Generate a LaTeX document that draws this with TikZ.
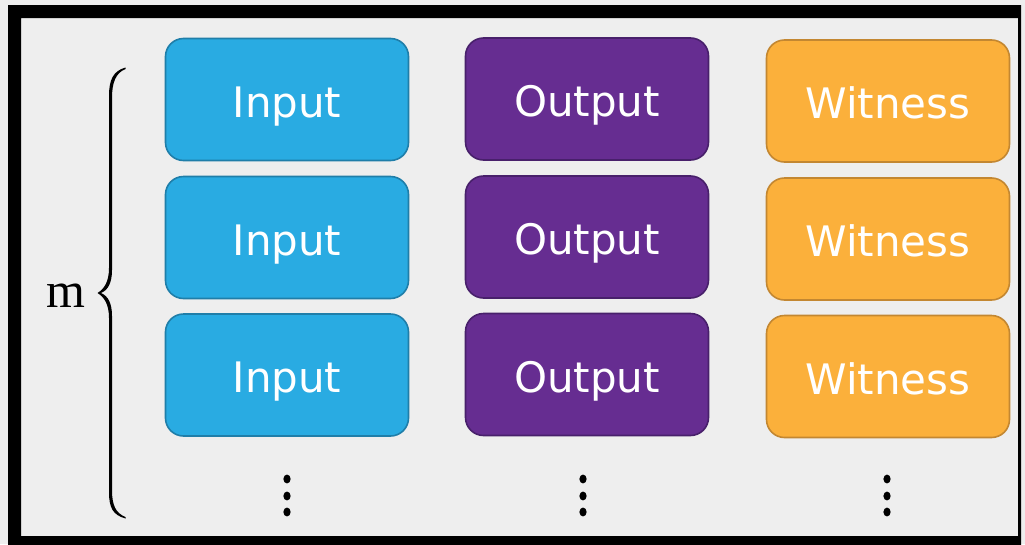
\documentclass[tikz,border=0pt]{standalone}
\usepackage{fontspec}
\setmainfont{Liberation Serif}
\newfontfamily\boxfont{DejaVu Sans}
\definecolor{bg}{HTML}{EEEEEE}
\definecolor{inFill}{HTML}{29ABE2}
\definecolor{inDraw}{HTML}{1F7EA9}
\definecolor{outFill}{HTML}{662D91}
\definecolor{outDraw}{HTML}{48206B}
\definecolor{wFill}{HTML}{FBB03B}
\definecolor{wDraw}{HTML}{C38731}
\tikzset{
  cell/.style={rounded corners=18pt, line width=1.6pt, minimum width=243pt, minimum height=122pt,
    inner sep=0pt, text height=35pt, text depth=0pt, text=white,
    font=\boxfont\fontsize{42}{42}\selectfont},
  inbox/.style={cell, fill=inFill, draw=inDraw},
  outbox/.style={cell, fill=outFill, draw=outDraw},
  wbox/.style={cell, fill=wFill, draw=wDraw},
  vdot/.style={fill=black}
}
\begin{document}
\begin{tikzpicture}[x=1pt,y=-1pt]
\useasboundingbox (0,0) rectangle (1025,544);
\fill[bg] (0,0) rectangle (1025,544);
% frame
\fill[black, even odd rule] (8,5) rectangle (1021,548) (21,18) rectangle (1018,536);
% boxes
\node[inbox] (i1) at (287,99.5) {Input};
\node[inbox] (i2) at (287,237.5) {Input};
\node[inbox] (i3) at (287,375) {Input};
\node[outbox] (o1) at (587,99) {Output};
\node[outbox] (o2) at (587,237) {Output};
\node[outbox] (o3) at (587,374.5) {Output};
\node[wbox] (w1) at (888,101) {Witness};
\node[wbox] (w2) at (888,239) {Witness};
\node[wbox] (w3) at (888,376.5) {Witness};
% vertical dots
\foreach \x in {287,583,887}{
  \foreach \y in {479,496,512}{
    \fill[vdot] (\x,\y) ellipse (3.6pt and 4.4pt);
  }
}
% brace
\fill[black] (125.5,67.5) .. controls (113,71) and (109,80) .. (109,96)
  -- (109,268) .. controls (109,282) and (104,289) .. (97.5,293)
  .. controls (104,297) and (109,304) .. (109,318)
  -- (109,492) .. controls (109,508) and (113,515) .. (125.5,518.5)
  -- (125.5,517) .. controls (115.5,513) and (112,505) .. (112,490)
  -- (112,316) .. controls (112,303) and (108,296) .. (101,293)
  .. controls (108,290) and (112,283) .. (112,270)
  -- (112,98) .. controls (112,83) and (115.5,73) .. (125.5,69) -- cycle;
\node[anchor=base, font=\fontsize{50}{50}\selectfont, inner sep=0pt] (m) at (65.5,307) {m};
\end{tikzpicture}
\end{document}
